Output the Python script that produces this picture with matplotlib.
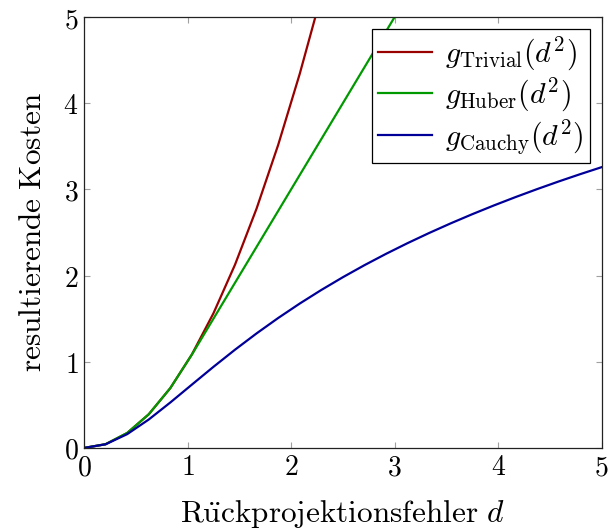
import matplotlib
matplotlib.use("Agg")
import matplotlib.pyplot as plt

# sample positions (25 samples over [0, 5])
d_vals = [0.0, 0.2083, 0.4167, 0.625, 0.8333, 1.0417, 1.25, 1.4583, 1.6667,
          1.875, 2.0833, 2.2917, 2.5, 2.7083, 2.9167, 3.125, 3.3333, 3.5417,
          3.75, 3.9583, 4.1667, 4.375, 4.5833, 4.7917, 5.0]

# cost values
cost_trivial = [0.0, 0.0434, 0.1736, 0.3906, 0.6944, 1.0851, 1.5625, 2.1267,
                2.7778, 3.5156, 4.3403, 5.2517, 6.25]
cost_huber = [0.0, 0.0434, 0.1736, 0.3906, 0.6944, 1.0833, 1.5, 1.9167,
              2.3333, 2.75, 3.1667, 3.5833, 4.0, 4.4167, 4.8333, 5.25, 5.6667]
cost_cauchy = [0.0, 0.0425, 0.1601, 0.3298, 0.5274, 0.7348, 0.9410, 1.1400,
               1.3291, 1.5075, 1.6753, 1.8329, 1.9810, 2.1205, 2.2520, 2.3763,
               2.4941, 2.6059, 2.7122, 2.8135, 2.9102, 3.0027, 3.0914, 3.1764,
               3.2581]

labels = [r"$g_{\mathrm{Trivial}}(d^2)$",
          r"$g_{\mathrm{Huber}}(d^2)$",
          r"$g_{\mathrm{Cauchy}}(d^2)$"]
colors = ["#990000", "#009900", "#000099"]

ticks = [0, 1, 2, 3, 4, 5]

plt.rcParams["mathtext.fontset"] = "cm"

fig = plt.figure(figsize=(6.09, 5.32), dpi=100)
ax = fig.add_axes([0.138, 0.158, 0.850, 0.810])

series = [cost_trivial, cost_huber, cost_cauchy]
for ys, lab, col in zip(series, labels, colors):
    ax.plot(d_vals[:len(ys)], ys, color=col, lw=1.6, label=lab,
            solid_joinstyle="miter")

ax.set_xlim(0, 5)
ax.set_ylim(0, 5)
ax.set_xticks(ticks)
ax.set_yticks(ticks)
ax.set_xticklabels([f"${t}$" for t in ticks], fontsize=20)
ax.set_yticklabels([f"${t}$" for t in ticks], fontsize=20)
ax.tick_params(direction="in", length=4, width=0.8, color="#a0a0a0",
               top=True, right=True, pad=4)
for sp in ax.spines.values():
    sp.set_linewidth(0.9)
    sp.set_color("#222222")

ax.set_xlabel(r"$\mathrm{R\ddot{u}ckprojektionsfehler}\ d$", fontsize=22.5,
              labelpad=12)
ax.set_ylabel(r"$\mathrm{resultierende\ Kosten}$", fontsize=22.5, labelpad=12)

leg = ax.legend(loc="upper right", fontsize=21.5, fancybox=False,
                framealpha=1, edgecolor="black", borderpad=0.2,
                labelspacing=0.1, handlelength=1.8, handletextpad=0.45,
                borderaxespad=0.4)
leg.get_frame().set_linewidth(0.9)

fig.savefig("out.png", dpi=100)
